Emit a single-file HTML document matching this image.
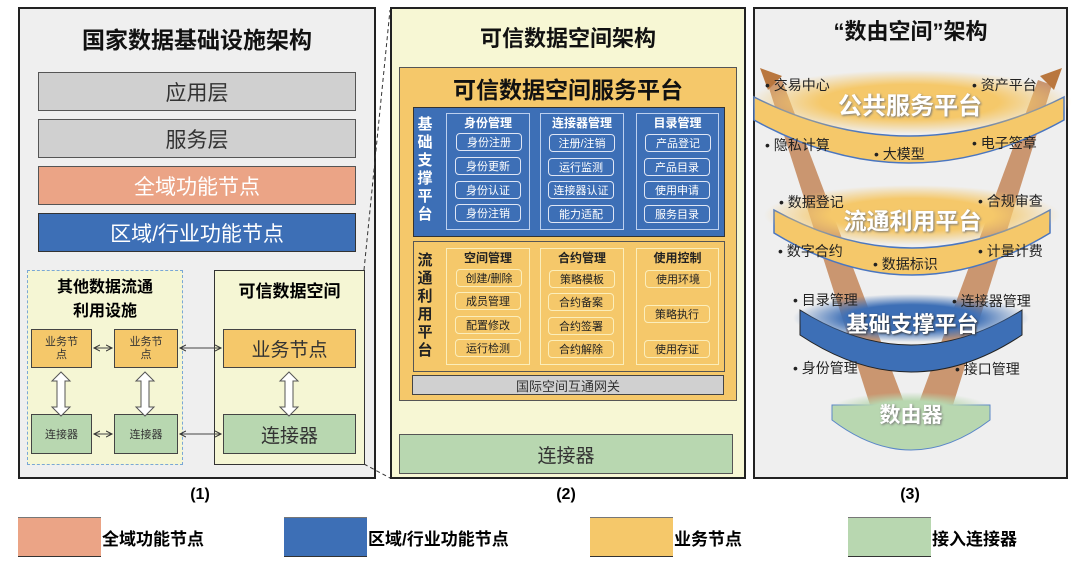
<!DOCTYPE html>
<html><head><meta charset="utf-8"><style>
*{box-sizing:border-box;margin:0;padding:0}
body{width:1080px;height:567px;background:#fff;position:relative;overflow:hidden;font-family:"Liberation Sans","Noto Sans CJK SC",sans-serif}
.a{position:absolute;display:flex;align-items:center;justify-content:center;text-align:center}
.b{font-weight:bold}
.pill{position:absolute;height:18px;border:1.5px solid #dfe6f5;border-radius:4px;font-size:11px;display:flex;align-items:center;justify-content:center;color:#fff}
.po{border-color:#fbeebb;color:#222}
</style></head><body>
<!-- Panel 1 -->
<div class="a" style="left:18px;top:7px;width:358px;height:472px;border:2px solid #222;background:#efefef"></div>
<div class="a b" style="left:18px;top:20px;width:358px;height:36px;font-size:23px;color:#111">国家数据基础设施架构</div>
<div class="a" style="left:38px;top:72px;width:318px;height:39px;background:#d0d0d0;border:1px solid #555;font-size:21px;color:#333">应用层</div>
<div class="a" style="left:38px;top:119px;width:318px;height:39px;background:#d0d0d0;border:1px solid #555;font-size:21px;color:#333">服务层</div>
<div class="a" style="left:38px;top:166px;width:318px;height:39px;background:#eba486;border:1px solid #555;font-size:21px;color:#fff">全域功能节点</div>
<div class="a" style="left:38px;top:213px;width:318px;height:39px;background:#3d6fb6;border:1px solid #333;font-size:21px;color:#fff">区域/行业功能节点</div>
<div class="a" style="left:27px;top:270px;width:156px;height:195px;background:#f5f6d4;border:1.5px dashed #7aa7d6"></div>
<div class="a b" style="left:27px;top:276px;width:156px;height:48px;font-size:16px;line-height:24px">其他数据流通<br>利用设施</div>
<div class="a" style="left:214px;top:270px;width:151px;height:195px;background:#f5f6d4;border:1.5px solid #333"></div>
<div class="a b" style="left:214px;top:276px;width:151px;height:26px;font-size:17px">可信数据空间</div>
<div class="a" style="left:31px;top:329px;width:61px;height:39px;background:#f5c86a;border:1px solid #444;font-size:11px;line-height:13px;color:#333">业务节<br>点</div>
<div class="a" style="left:114px;top:329px;width:64px;height:39px;background:#f5c86a;border:1px solid #444;font-size:11px;line-height:13px;color:#333">业务节<br>点</div>
<div class="a" style="left:31px;top:414px;width:61px;height:40px;background:#b8d7b0;border:1px solid #444;font-size:11px;color:#333">连接器</div>
<div class="a" style="left:114px;top:414px;width:64px;height:40px;background:#b8d7b0;border:1px solid #444;font-size:11px;color:#333">连接器</div>
<div class="a" style="left:223px;top:329px;width:133px;height:39px;background:#f5c86a;border:1px solid #444;font-size:19px;color:#333">业务节点</div>
<div class="a" style="left:223px;top:414px;width:133px;height:40px;background:#b8d7b0;border:1px solid #444;font-size:19px;color:#333">连接器</div>
<svg style="position:absolute;left:0;top:0" width="1080" height="567">
<defs><marker id="m" markerWidth="8" markerHeight="8" refX="6" refY="4" orient="auto-start-reverse"><path d="M0,1 L6,4 L0,7" fill="none" stroke="#333" stroke-width="1"/></marker></defs>
<g stroke="#444" stroke-width="1" marker-start="url(#m)" marker-end="url(#m)">
<line x1="94" y1="348" x2="112" y2="348"/><line x1="180" y1="348" x2="221" y2="348"/>
<line x1="94" y1="434" x2="112" y2="434"/><line x1="180" y1="434" x2="221" y2="434"/>
</g>
<g fill="#fff" stroke="#555" stroke-width="1">
<path d="M61,372 l-9,9 h5 v26 h-5 l9,9 l9,-9 h-5 v-26 h5 z"/>
<path d="M145,372 l-9,9 h5 v26 h-5 l9,9 l9,-9 h-5 v-26 h5 z"/>
<path d="M289,372 l-9,9 h5 v26 h-5 l9,9 l9,-9 h-5 v-26 h5 z"/>
<path d="M566,403 l-9,8 h5 v10 h-5 l9,8 l9,-8 h-5 v-10 h5 z"/>
</g>
<g stroke="#333" stroke-dasharray="4,3" fill="none"><line x1="364" y1="270" x2="390" y2="10"/><line x1="364" y1="464" x2="390" y2="478"/></g>
</svg>
<!-- Panel 2 -->
<div class="a" style="left:390px;top:7px;width:356px;height:472px;border:2px solid #222;background:#f7f7d4"></div>
<div class="a b" style="left:390px;top:20px;width:356px;height:34px;font-size:22px;color:#111">可信数据空间架构</div>
<div class="a" style="left:399px;top:67px;width:338px;height:334px;background:#f5c86a;border:1.5px solid #555"></div>
<div class="a b" style="left:399px;top:72px;width:338px;height:32px;font-size:23px;color:#111">可信数据空间服务平台</div>
<div class="a" style="left:413px;top:107px;width:312px;height:130px;background:#3d6fb6;border:1px solid #333"></div>
<div class="a b" style="left:414px;top:112px;width:22px;height:116px;font-size:15px;line-height:18px;color:#fff">基<br>础<br>支<br>撑<br>平<br>台</div>
<div class="a" style="left:413px;top:241px;width:312px;height:131px;background:#f5c86a;border:1px solid #555"></div>
<div class="a b" style="left:414px;top:248px;width:22px;height:116px;font-size:15px;line-height:18px;color:#222">流<br>通<br>利<br>用<br>平<br>台</div>
<div class="a" style="left:412px;top:375px;width:312px;height:20px;background:#d0d0d0;border:1px solid #444;font-size:13px;color:#333">国际空间互通网关</div>
<div class="a" style="left:399px;top:434px;width:334px;height:40px;background:#b8d7b0;border:1px solid #555;font-size:19px;color:#333">连接器</div>
<div style="position:absolute;left:446px;top:113px;width:84px;height:117px;border:1px solid #bcd0ef"></div>
<div style="position:absolute;left:540px;top:113px;width:84px;height:117px;border:1px solid #bcd0ef"></div>
<div style="position:absolute;left:636px;top:113px;width:83px;height:117px;border:1px solid #bcd0ef"></div>
<div class="a b" style="left:446px;top:114px;width:84px;height:16px;font-size:12px;color:#fff">身份管理</div>
<div class="a b" style="left:540px;top:114px;width:84px;height:16px;font-size:12px;color:#fff">连接器管理</div>
<div class="a b" style="left:636px;top:114px;width:83px;height:16px;font-size:12px;color:#fff">目录管理</div>
<div class="pill" style="left:456px;top:133px;width:66px">身份注册</div>
<div class="pill" style="left:455px;top:157px;width:66px">身份更新</div>
<div class="pill" style="left:455px;top:181px;width:66px">身份认证</div>
<div class="pill" style="left:455px;top:204px;width:66px">身份注销</div>
<div class="pill" style="left:549px;top:134px;width:66px">注册/注销</div>
<div class="pill" style="left:548px;top:158px;width:66px">运行监测</div>
<div class="pill" style="left:548px;top:181px;width:66px">连接器认证</div>
<div class="pill" style="left:548px;top:205px;width:66px">能力适配</div>
<div class="pill" style="left:645px;top:134px;width:66px">产品登记</div>
<div class="pill" style="left:644px;top:158px;width:66px">产品目录</div>
<div class="pill" style="left:644px;top:181px;width:66px">使用申请</div>
<div class="pill" style="left:644px;top:205px;width:66px">服务目录</div>
<div style="position:absolute;left:446px;top:248px;width:84px;height:117px;border:1px solid #fbeebb"></div>
<div style="position:absolute;left:540px;top:248px;width:84px;height:117px;border:1px solid #fbeebb"></div>
<div style="position:absolute;left:636px;top:248px;width:83px;height:117px;border:1px solid #fbeebb"></div>
<div class="a b" style="left:446px;top:249px;width:84px;height:16px;font-size:12px;color:#222">空间管理</div>
<div class="a b" style="left:540px;top:249px;width:84px;height:16px;font-size:12px;color:#222">合约管理</div>
<div class="a b" style="left:636px;top:249px;width:83px;height:16px;font-size:12px;color:#222">使用控制</div>
<div class="pill po" style="left:456px;top:269px;width:66px">创建/删除</div>
<div class="pill po" style="left:455px;top:292px;width:66px">成员管理</div>
<div class="pill po" style="left:455px;top:316px;width:66px">配置修改</div>
<div class="pill po" style="left:455px;top:339px;width:66px">运行检测</div>
<div class="pill po" style="left:549px;top:270px;width:66px">策略模板</div>
<div class="pill po" style="left:548px;top:293px;width:66px">合约备案</div>
<div class="pill po" style="left:548px;top:317px;width:66px">合约签署</div>
<div class="pill po" style="left:548px;top:340px;width:66px">合约解除</div>
<div class="pill po" style="left:645px;top:270px;width:66px">使用环境</div>
<div class="pill po" style="left:644px;top:305px;width:66px">策略执行</div>
<div class="pill po" style="left:644px;top:340px;width:66px">使用存证</div>
<!-- Panel 3 -->
<div class="a" style="left:753px;top:7px;width:315px;height:472px;border:2px solid #222;background:#efefef"></div>
<div class="a b" style="left:753px;top:14px;width:315px;height:32px;font-size:22px;color:#111">“数由空间”架构</div>
<svg style="position:absolute;left:0;top:0" width="1080" height="567">
<defs>
<radialGradient id="gy"><stop offset="0.55" stop-color="#f5c86a"/><stop offset="1" stop-color="#f5c86a" stop-opacity="0"/></radialGradient>
<radialGradient id="gb"><stop offset="0.55" stop-color="#3d6fb6"/><stop offset="1" stop-color="#3d6fb6" stop-opacity="0"/></radialGradient>
<radialGradient id="gg"><stop offset="0.5" stop-color="#b8d7b0"/><stop offset="1" stop-color="#b8d7b0" stop-opacity="0"/></radialGradient>
</defs>
<polygon points="905,405 870,405 768,85 782,80" fill="#c08050" opacity="0.8"/>
<polygon points="918,405 953,405 1052,85 1038,80" fill="#c08050" opacity="0.8"/>
<polygon points="760,68 782,76 768,90" fill="#b9773f"/>
<polygon points="1062,68 1040,76 1054,90" fill="#b9773f"/>
<!-- 数由器 -->
<path d="M832,405 V420 Q911,480 990,420 V405 Z" fill="#b8d7b0" stroke="#5a86c8"/>
<ellipse cx="911" cy="410" rx="82" ry="18" fill="url(#gg)"/>
<!-- 基础 -->
<path d="M800,310 Q911,380 1022,310 V335 Q911,409 800,335 Z" fill="#3d6fb6" stroke="#222"/>
<ellipse cx="911" cy="318" rx="118" ry="24" fill="url(#gb)"/>
<!-- 流通 -->
<path d="M774,210 Q912,286 1050,210 V233 Q912,317 774,233 Z" fill="#f5c86a" stroke="#4a76c0" stroke-width="1.5"/>
<ellipse cx="912" cy="215" rx="148" ry="30" fill="url(#gy)"/>
<!-- 公共 -->
<path d="M754,97 Q909,175 1064,97 V120 Q909,206 754,120 Z" fill="#f5c86a" stroke="#4a76c0" stroke-width="1.5"/>
<ellipse cx="910" cy="102" rx="162" ry="32" fill="url(#gy)"/>
</svg>
<div class="a b" style="left:760px;top:88px;width:300px;height:30px;font-size:24px;color:#fff;text-shadow:1px 1px 2px #777">公共服务平台</div>
<div class="a b" style="left:770px;top:204px;width:285px;height:30px;font-size:23px;color:#fff;text-shadow:1px 1px 2px #777">流通利用平台</div>
<div class="a b" style="left:800px;top:308px;width:225px;height:30px;font-size:22px;color:#fff;text-shadow:1px 1px 2px #333">基础支撑平台</div>
<div class="a b" style="left:832px;top:400px;width:158px;height:28px;font-size:21px;color:#fff;text-shadow:1px 1px 2px #777">数由器</div>
<div style="position:absolute;font-size:14px;color:#222;line-height:16px">
<span style="position:absolute;left:765px;top:77px;white-space:nowrap">• 交易中心</span>
<span style="position:absolute;left:972px;top:77px;white-space:nowrap">• 资产平台</span>
<span style="position:absolute;left:765px;top:137px;white-space:nowrap">• 隐私计算</span>
<span style="position:absolute;left:874px;top:146px;white-space:nowrap">• 大模型</span>
<span style="position:absolute;left:972px;top:135px;white-space:nowrap">• 电子签章</span>
<span style="position:absolute;left:779px;top:194px;white-space:nowrap">• 数据登记</span>
<span style="position:absolute;left:978px;top:193px;white-space:nowrap">• 合规审查</span>
<span style="position:absolute;left:778px;top:243px;white-space:nowrap">• 数字合约</span>
<span style="position:absolute;left:873px;top:256px;white-space:nowrap">• 数据标识</span>
<span style="position:absolute;left:978px;top:243px;white-space:nowrap">• 计量计费</span>
<span style="position:absolute;left:793px;top:292px;white-space:nowrap">• 目录管理</span>
<span style="position:absolute;left:952px;top:293px;white-space:nowrap">• 连接器管理</span>
<span style="position:absolute;left:793px;top:360px;white-space:nowrap">• 身份管理</span>
<span style="position:absolute;left:955px;top:361px;white-space:nowrap">• 接口管理</span>
</div>
<div class="a b" style="left:170px;top:484px;width:60px;height:22px;font-size:16px">(1)</div>
<div class="a b" style="left:536px;top:484px;width:60px;height:22px;font-size:16px">(2)</div>
<div class="a b" style="left:880px;top:484px;width:60px;height:22px;font-size:16px">(3)</div>
<div style="position:absolute;left:18px;top:517px;width:83px;height:40px;background:#eba486;border-top:1px solid #777;border-bottom:1px solid #333"></div>
<div class="b" style="position:absolute;left:102px;top:525px;font-size:17px">全域功能节点</div>
<div style="position:absolute;left:284px;top:517px;width:83px;height:40px;background:#3d6fb6;border-top:1px solid #777;border-bottom:1px solid #333"></div>
<div class="b" style="position:absolute;left:368px;top:525px;font-size:17px">区域/行业功能节点</div>
<div style="position:absolute;left:590px;top:517px;width:83px;height:40px;background:#f5c86a;border-top:1px solid #777;border-bottom:1px solid #333"></div>
<div class="b" style="position:absolute;left:674px;top:525px;font-size:17px">业务节点</div>
<div style="position:absolute;left:848px;top:517px;width:83px;height:40px;background:#b8d7b0;border-top:1px solid #777;border-bottom:1px solid #333"></div>
<div class="b" style="position:absolute;left:932px;top:525px;font-size:17px">接入连接器</div>
</body></html>
